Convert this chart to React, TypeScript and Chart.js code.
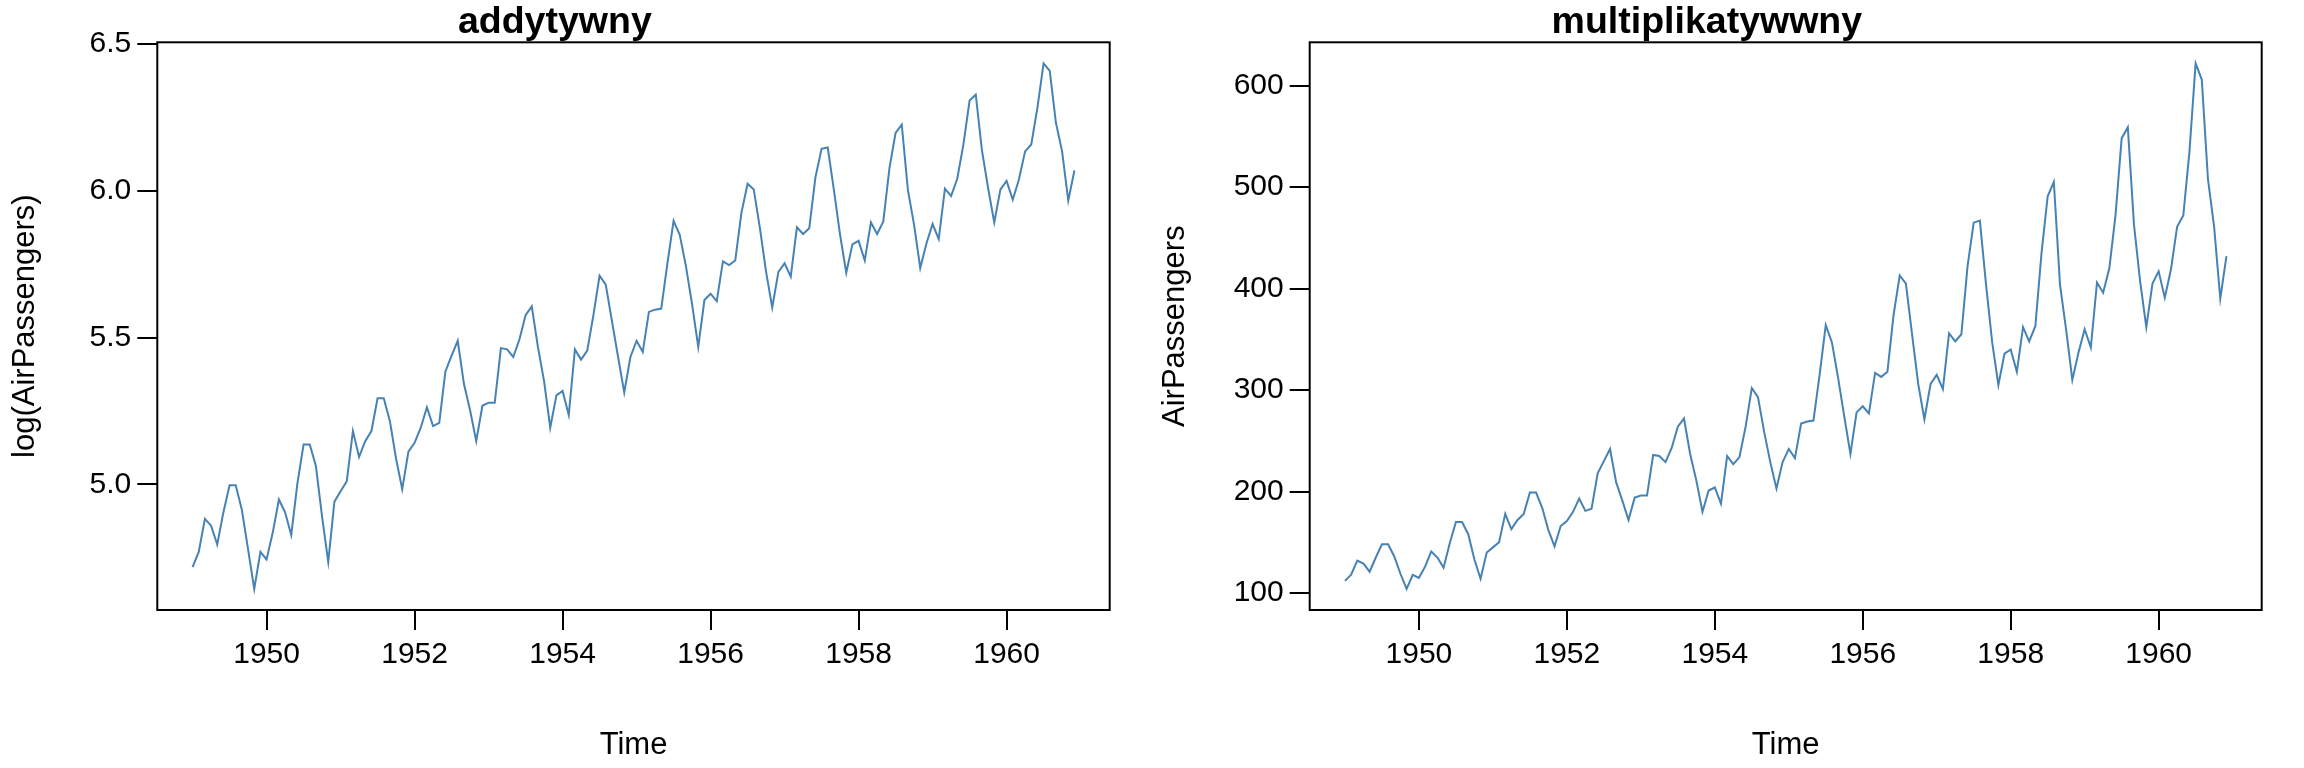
import React, { useEffect, useRef } from 'react';
import { Chart, registerables } from 'chart.js';

Chart.register(...registerables);

// Monthly totals of international airline passengers (thousands), 1949–1960
const startYear = 1949;
const frequency = 12;
const airPassengers = [
  112, 118, 132, 129, 121, 135, 148, 148, 136, 119, 104, 118,
  115, 126, 141, 135, 125, 149, 170, 170, 158, 133, 114, 140,
  145, 150, 178, 163, 172, 178, 199, 199, 184, 162, 146, 166,
  171, 180, 193, 181, 183, 218, 230, 242, 209, 191, 172, 194,
  196, 196, 236, 235, 229, 243, 264, 272, 237, 211, 180, 201,
  204, 188, 235, 227, 234, 264, 302, 293, 259, 229, 203, 229,
  242, 233, 267, 269, 270, 315, 364, 347, 312, 274, 237, 278,
  284, 277, 317, 313, 318, 374, 413, 405, 355, 306, 271, 306,
  315, 301, 356, 348, 355, 422, 465, 467, 404, 347, 305, 336,
  340, 318, 362, 348, 363, 435, 491, 505, 404, 359, 310, 337,
  360, 342, 406, 396, 420, 472, 548, 559, 463, 407, 362, 405,
  417, 391, 419, 461, 472, 535, 622, 606, 508, 461, 390, 432,
];

const timeTicks = [1950, 1952, 1954, 1956, 1958, 1960];
const logTicks = [5.0, 5.5, 6.0, 6.5];
const countTicks = [100, 200, 300, 400, 500, 600];
const panelTitles = ['addytywny', 'multiplikatywwny'];
const yAxisTitles = ['log(AirPassengers)', 'AirPassengers'];
const xAxisTitle = 'Time';

const FONT = "'Liberation Sans', Arial, Helvetica, sans-serif";
const LINE_COLOR = '#4682B4';

function timeOf(i: number) {
  return startYear + i / frequency;
}

function rExtend(values: number[]) {
  const lo = Math.min(...values);
  const hi = Math.max(...values);
  const d = (hi - lo) * 0.04;
  return [lo - d, hi + d];
}

const boxPlugin = {
  id: 'rbox',
  afterDraw(chart: any) {
    const { ctx, chartArea } = chart;
    const { left, top, right, bottom } = chartArea;
    ctx.save();
    ctx.strokeStyle = '#000';
    ctx.lineWidth = 2;
    ctx.strokeRect(left, top, right - left, bottom - top);
    ctx.restore();
  },
};

function makeConfig(
  values: number[],
  yTicks: number[],
  fmt: (v: number) => string,
  title: string,
  yTitle: string,
  yAxisWidth: number,
  yTitlePad: number
): any {
  const points = values.map((v, i) => ({ x: timeOf(i), y: v }));
  const xs = values.map((_, i) => timeOf(i));
  const [xmin, xmax] = rExtend(xs);
  const [ymin, ymax] = rExtend(values);
  return {
    type: 'line',
    data: {
      datasets: [
        {
          data: points,
          borderColor: LINE_COLOR,
          borderWidth: 2,
          pointRadius: 0,
          tension: 0,
          fill: false,
        },
      ],
    },
    options: {
      animation: false,
      responsive: false,
      maintainAspectRatio: false,
      events: [],
      layout: { padding: { left: 0, right: 42.3, top: 0, bottom: 0 } },
      plugins: {
        legend: { display: false },
        tooltip: { enabled: false },
        title: {
          display: true,
          text: title,
          color: '#000',
          font: { family: FONT, size: 37.5, weight: 'bold', lineHeight: 1.0 },
          padding: { top: 3.6, bottom: 1.2 },
        },
      },
      scales: {
        x: {
          type: 'linear',
          min: xmin,
          max: xmax,
          offset: false,
          afterBuildTicks: (s: any) => {
            s.ticks = timeTicks.map((v) => ({ value: v }));
          },
          afterFit: (s: any) => {
            s.height = 158;
          },
          ticks: {
            autoSkip: false,
            maxRotation: 0,
            minRotation: 0,
            color: '#000',
            font: { family: FONT, size: 30 },
            padding: 6.7,
            callback: (v: any) => String(v),
          },
          grid: {
            drawOnChartArea: false,
            drawTicks: true,
            tickLength: 20,
            color: '#000',
            lineWidth: 2,
            tickColor: '#000',
            tickWidth: 2,
          },
          border: { display: false },
          title: {
            display: true,
            text: xAxisTitle,
            color: '#000',
            font: { family: FONT, size: 31 },
            padding: { top: 0, bottom: 4 },
          },
        },
        y: {
          type: 'linear',
          min: ymin,
          max: ymax,
          afterBuildTicks: (s: any) => {
            s.ticks = yTicks.map((v) => ({ value: v }));
          },
          afterFit: (s: any) => {
            s.width = yAxisWidth;
          },
          ticks: {
            autoSkip: false,
            color: '#000',
            font: { family: FONT, size: 30 },
            padding: 6,
            callback: (v: any) => fmt(Number(v)),
          },
          grid: {
            drawOnChartArea: false,
            drawTicks: true,
            tickLength: 20,
            color: '#000',
            lineWidth: 2,
            tickColor: '#000',
            tickWidth: 2,
          },
          border: { display: false },
          title: {
            display: true,
            text: yTitle,
            color: '#000',
            font: { family: FONT, size: 31 },
            padding: { top: yTitlePad, bottom: 0 },
          },
        },
      },
    },
    plugins: [boxPlugin],
  };
}

export default function App() {
  const leftRef = useRef<HTMLCanvasElement | null>(null);
  const rightRef = useRef<HTMLCanvasElement | null>(null);

  useEffect(() => {
    const logValues = airPassengers.map((v) => Math.log(v));
    const c1 = new Chart(
      leftRef.current as HTMLCanvasElement,
      makeConfig(logValues, logTicks, (v) => v.toFixed(1), panelTitles[0], yAxisTitles[0], 157.3, 6.9)
    );
    const c2 = new Chart(
      rightRef.current as HTMLCanvasElement,
      makeConfig(airPassengers, countTicks, (v) => String(v), panelTitles[1], yAxisTitles[1], 157.7, 4.9)
    );
    return () => {
      c1.destroy();
      c2.destroy();
    };
  }, []);

  return (
    <div
      style={{
        position: 'absolute',
        left: 0,
        top: 0,
        width: 2304,
        height: 768,
        background: '#fff',
      }}
    >
      <canvas
        ref={leftRef}
        width={1152}
        height={768}
        style={{ position: 'absolute', left: 0, top: 0, width: 1152, height: 768 }}
      />
      <canvas
        ref={rightRef}
        width={1152}
        height={768}
        style={{ position: 'absolute', left: 1152, top: 0, width: 1152, height: 768 }}
      />
    </div>
  );
}
